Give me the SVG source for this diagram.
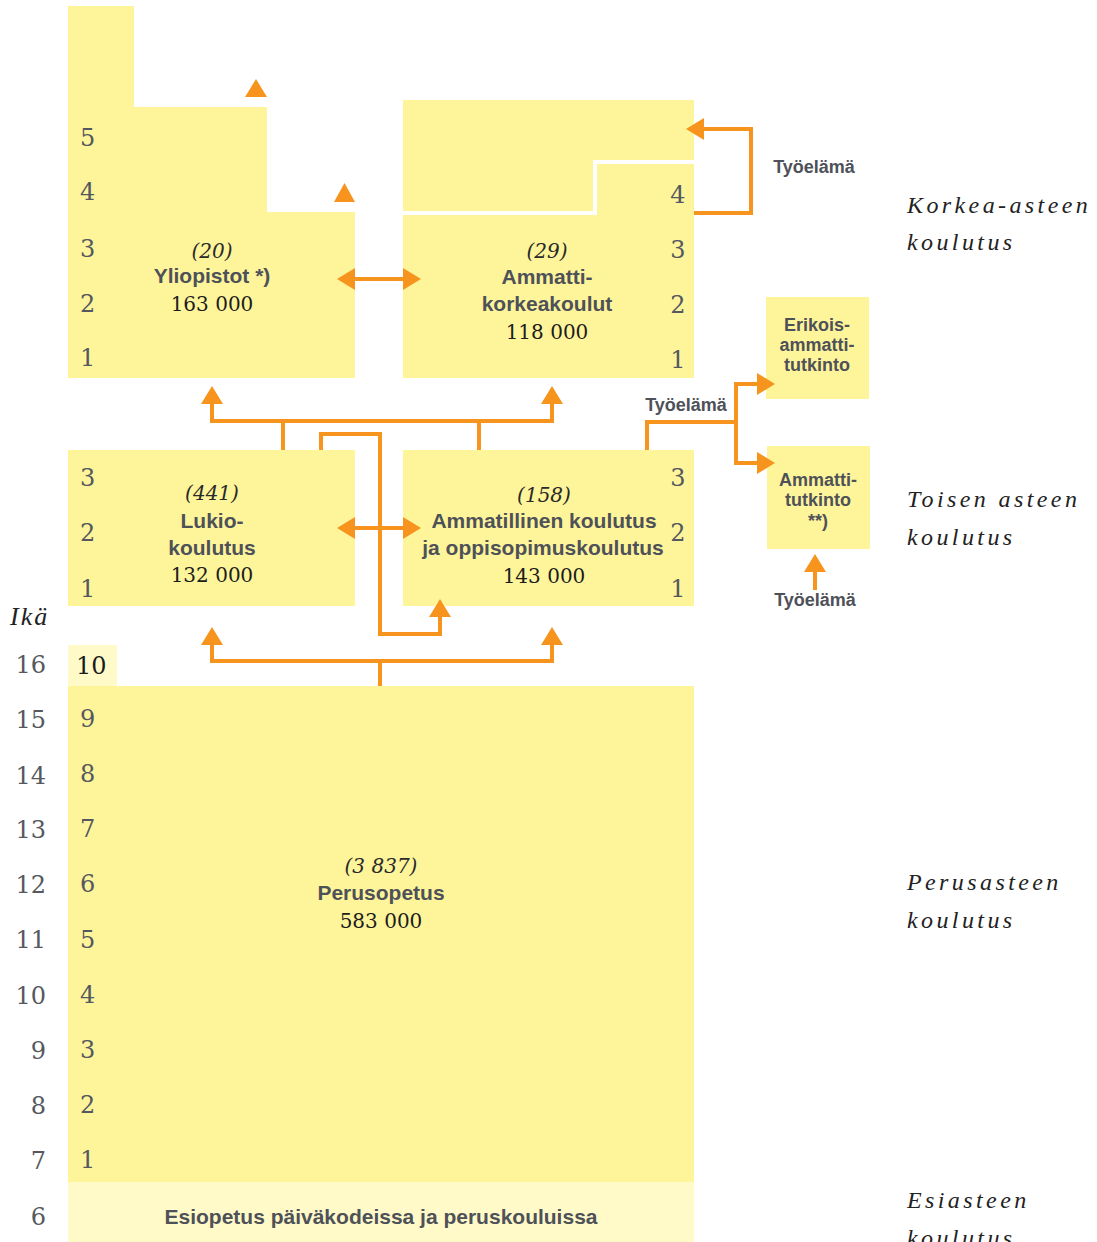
<svg xmlns="http://www.w3.org/2000/svg" width="1097" height="1242" viewBox="0 0 1097 1242">
<defs>
<style>
.box{fill:#fef59b}
.light{fill:#fffac8}
.num{font-family:"DejaVu Serif","Liberation Serif",serif;font-size:24px;fill:#55585e}
.age{font-family:"DejaVu Serif","Liberation Serif",serif;font-size:24px;fill:#55585e;text-anchor:end}
.val{font-family:"DejaVu Serif","Liberation Serif",serif;font-size:20px;fill:#1c1c1c;text-anchor:middle}
.cnt{font-family:"DejaVu Serif","Liberation Serif",serif;font-style:italic;font-size:20px;fill:#2a2a2a;text-anchor:middle}
.lbl{font-family:"Liberation Sans",Arial,sans-serif;font-weight:bold;font-size:21px;fill:#4e5158;text-anchor:middle}
.sm{font-size:18px}
.tyo{font-family:"Liberation Sans",Arial,sans-serif;font-weight:bold;font-size:18px;fill:#4e5158}
.lvl{font-family:"Liberation Serif",serif;font-style:italic;font-size:24px;letter-spacing:3.4px;fill:#222}
.conn{fill:none;stroke:#f7941d;stroke-width:4}
.head{fill:#f7941d}
</style>
<marker id="ah" markerUnits="userSpaceOnUse" markerWidth="20" markerHeight="22" refX="0" refY="11" orient="auto-start-reverse" overflow="visible">
<path d="M0,0 L18,11 L0,22 z" fill="#f7941d"/>
</marker>
</defs>
<rect width="1097" height="1242" fill="#ffffff"/>

<g id="yliopistot">
<polygon class="box" points="68,6 134,6 134,107 267,107 267,212 355,212 355,378 68,378"/>
<text class="num" x="80" y="146">5</text>
<text class="num" x="80" y="200">4</text>
<text class="num" x="80" y="257">3</text>
<text class="num" x="80" y="312">2</text>
<text class="num" x="80" y="366">1</text>
<text class="cnt" x="212" y="258">(20)</text>
<text class="lbl" x="212" y="283">Yliopistot *)</text>
<text class="val" x="212" y="311">163 000</text>
</g>

<g id="amk">
<rect class="box" x="403" y="100" width="291" height="278"/>
<path d="M403,213 H595 V162 H694" fill="none" stroke="#ffffff" stroke-width="4"/>
<text class="num" x="678" y="203" text-anchor="middle">4</text>
<text class="num" x="678" y="258" text-anchor="middle">3</text>
<text class="num" x="678" y="313" text-anchor="middle">2</text>
<text class="num" x="678" y="368" text-anchor="middle">1</text>
<text class="cnt" x="547" y="258">(29)</text>
<text class="lbl" x="547" y="284">Ammatti-</text>
<text class="lbl" x="547" y="311">korkeakoulut</text>
<text class="val" x="547" y="339">118 000</text>
</g>

<g id="erikois">
<rect class="box" x="766" y="297" width="103" height="102"/>
<text class="lbl sm" x="817" y="331">Erikois-</text>
<text class="lbl sm" x="817" y="351">ammatti-</text>
<text class="lbl sm" x="817" y="371">tutkinto</text>
</g>

<g id="ammattitutkinto">
<rect class="box" x="767" y="446" width="103" height="103"/>
<text class="lbl sm" x="818" y="486">Ammatti-</text>
<text class="lbl sm" x="818" y="506">tutkinto</text>
<text class="lbl sm" x="818" y="527">**)</text>
</g>

<g id="lukio">
<rect class="box" x="68" y="450" width="287" height="156"/>
<text class="num" x="80" y="486">3</text>
<text class="num" x="80" y="541">2</text>
<text class="num" x="80" y="597">1</text>
<text class="cnt" x="212" y="500">(441)</text>
<text class="lbl" x="212" y="528">Lukio-</text>
<text class="lbl" x="212" y="555">koulutus</text>
<text class="val" x="212" y="582">132 000</text>
</g>

<g id="ammatillinen">
<rect class="box" x="403" y="450" width="291" height="156"/>
<text class="num" x="678" y="486" text-anchor="middle">3</text>
<text class="num" x="678" y="541" text-anchor="middle">2</text>
<text class="num" x="678" y="597" text-anchor="middle">1</text>
<text class="cnt" x="544" y="502">(158)</text>
<text class="lbl" x="544" y="528">Ammatillinen koulutus</text>
<text class="lbl" x="543" y="555">ja oppisopimuskoulutus</text>
<text class="val" x="544" y="583">143 000</text>
</g>

<g id="perusopetus">
<rect class="light" x="68" y="645" width="49" height="41"/>
<rect class="box" x="68" y="686" width="626" height="496"/>
<text class="num" x="76" y="674" style="fill:#1c1c1c">10</text>
<text class="num" x="80" y="727">9</text>
<text class="num" x="80" y="782">8</text>
<text class="num" x="80" y="837">7</text>
<text class="num" x="80" y="892">6</text>
<text class="num" x="80" y="948">5</text>
<text class="num" x="80" y="1003">4</text>
<text class="num" x="80" y="1058">3</text>
<text class="num" x="80" y="1113">2</text>
<text class="num" x="80" y="1168">1</text>
<text class="cnt" x="381" y="873">(3 837)</text>
<text class="lbl" x="381" y="900">Perusopetus</text>
<text class="val" x="381" y="928">583 000</text>
</g>

<g id="esiopetus">
<rect class="light" x="68" y="1182" width="626" height="60"/>
<text class="lbl" x="381" y="1224">Esiopetus päiväkodeissa ja peruskouluissa</text>
</g>

<g id="ages">
<text x="10" y="625" style="font-family:'Liberation Serif',serif;font-style:italic;font-size:26px;letter-spacing:2px;fill:#222">Ikä</text>
<text class="age" x="46" y="673">16</text>
<text class="age" x="46" y="728">15</text>
<text class="age" x="46" y="784">14</text>
<text class="age" x="46" y="838">13</text>
<text class="age" x="46" y="893">12</text>
<text class="age" x="46" y="948">11</text>
<text class="age" x="46" y="1004">10</text>
<text class="age" x="46" y="1059">9</text>
<text class="age" x="46" y="1114">8</text>
<text class="age" x="46" y="1169">7</text>
<text class="age" x="46" y="1225">6</text>
</g>

<g id="levels">
<text class="lvl" x="907" y="213">Korkea-asteen</text>
<text class="lvl" x="907" y="250">koulutus</text>
<text class="lvl" x="907" y="507">Toisen asteen</text>
<text class="lvl" x="907" y="545">koulutus</text>
<text class="lvl" x="907" y="890">Perusasteen</text>
<text class="lvl" x="907" y="928">koulutus</text>
<text class="lvl" x="907" y="1208">Esiasteen</text>
<text class="lvl" x="907" y="1246">koulutus</text>
</g>

<g id="tyoelama-labels">
<text class="tyo" x="814" y="173" text-anchor="middle">Työelämä</text>
<text class="tyo" x="686" y="411" text-anchor="middle">Työelämä</text>
<text class="tyo" x="815" y="606" text-anchor="middle">Työelämä</text>
</g>

<g id="connectors">
<polygon class="head" points="245,97 256,79 267,97"/>
<polygon class="head" points="334,202 344.5,183 355,202"/>
<path class="conn" d="M694,213 H751 V129 H704" marker-end="url(#ah)"/>
<path class="conn" d="M355,279 H403" marker-start="url(#ah)" marker-end="url(#ah)"/>
<path class="conn" d="M355,528 H403" marker-start="url(#ah)" marker-end="url(#ah)"/>
<path class="conn" d="M212,404 V421 H552 V404" marker-start="url(#ah)" marker-end="url(#ah)"/>
<path class="conn" d="M283,421 V450 M479,421 V450"/>
<path class="conn" d="M321,450 V434 H380 V634 H440 V617" marker-end="url(#ah)"/>
<path class="conn" d="M212,645 V661 H552 V645" marker-start="url(#ah)" marker-end="url(#ah)"/>
<path class="conn" d="M380,686 V661"/>
<path class="conn" d="M647,450 V422 H736 V384 H757" marker-end="url(#ah)"/>
<path class="conn" d="M736,422 V463 H757" marker-end="url(#ah)"/>
<path class="conn" d="M815,590 V572" marker-end="url(#ah)"/>
</g>
</svg>
